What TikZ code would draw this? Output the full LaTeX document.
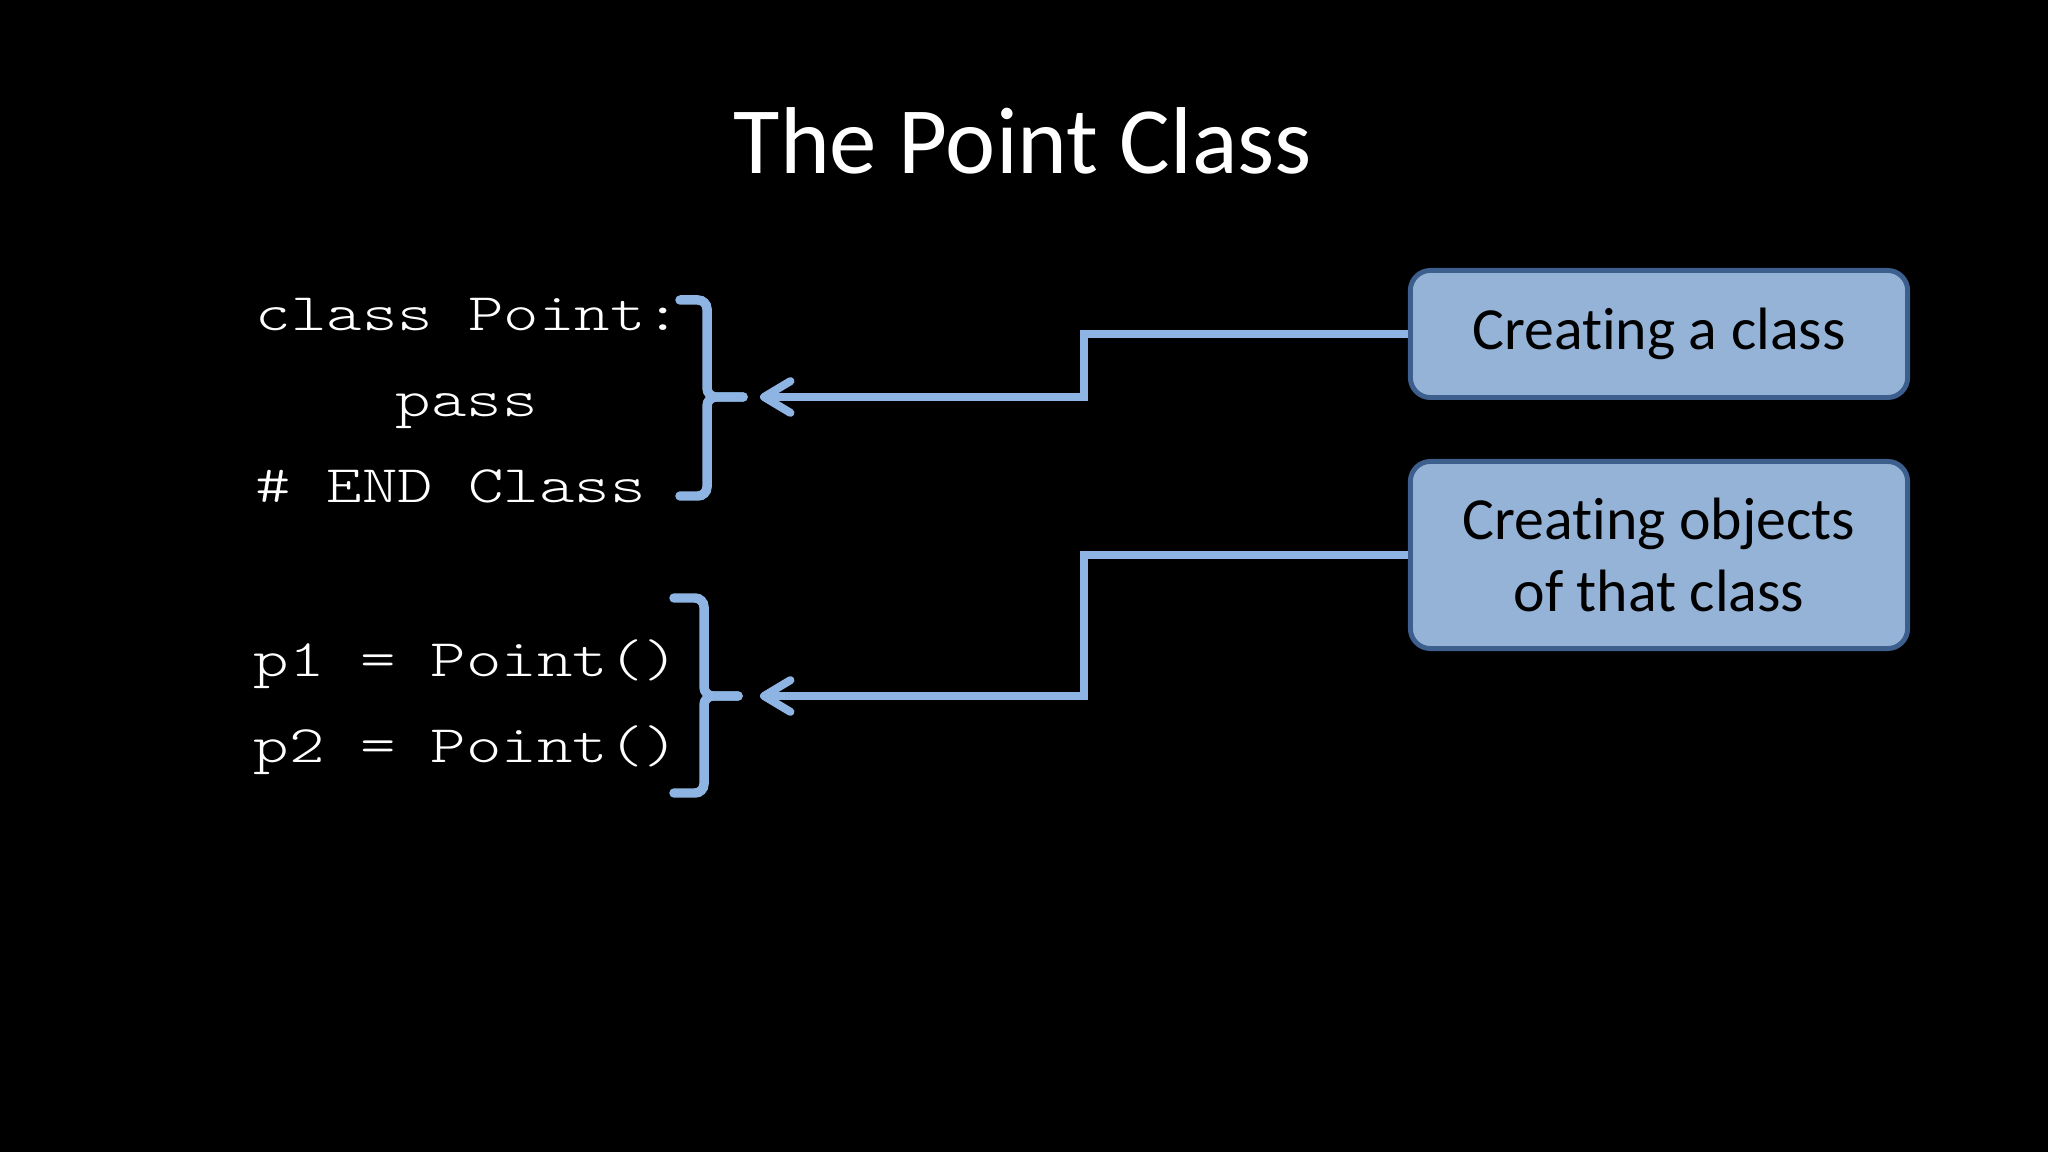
\documentclass[tikz,border=0pt]{standalone}
\usepackage{fontspec}
\setmainfont[Ligatures={NoCommon,NoContextual}]{Carlito}
\newfontfamily\codefont[FakeStretch=1.28]{Latin Modern Mono Light}
\usetikzlibrary{arrows.meta}
\definecolor{linkblue}{HTML}{8DB4E2}
\definecolor{boxfill}{HTML}{95B3D7}
\definecolor{boxedge}{HTML}{3D5F8E}
\tikzset{
  code/.style={anchor=base west, inner sep=0pt, text=white, font=\codefont\fontsize{15}{18}\selectfont},
  note/.style={draw=boxedge, line width=1.4pt, fill=boxfill, rounded corners=0.2cm, minimum width=4.97cm, align=center, font=\fontsize{17}{20.5}\selectfont},
  curly/.style={draw=linkblue, line width=2.7pt, rounded corners=0.09cm, line cap=round},
  link/.style={draw=linkblue, line width=2.3pt, -{Straight Barb[length=7.5pt,width=9pt,round]}}
}
\begin{document}
\begin{tikzpicture}[x=0.01cm,y=-0.01cm]
\useasboundingbox[fill=black] (0,0) rectangle (2048,1152);
\node[anchor=base, text=white, font=\fontsize{27}{32}\selectfont] (title) at (1023,174) {The Point Class};

\node[code] (c1) at (255,331) {class Point:};
\node[code] (c2) at (395,417) {pass};
\node[code] (c3) at (255,503) {\# END Class};
\node[code] (c4) at (253,676) {p1 = Point()};
\node[code] (c5) at (253,762) {p2 = Point()};

\draw[curly] (680,300) -- (707,300) -- (707,397) -- (743,397);
\draw[curly] (680,496) -- (707,496) -- (707,397) -- (743,397);
\draw[curly] (674,598) -- (704,598) -- (704,696) -- (738,696);
\draw[curly] (674,793) -- (704,793) -- (704,696) -- (738,696);

\node[note, minimum height=1.27cm] (mkclass) at (1659,334) {Creating a class};
\node[note, minimum height=1.87cm] (mkobj) at (1659,555) {Creating objects\\of that class};

\coordinate (tip1) at (760,397);
\coordinate (tip2) at (760,696);
\draw[link] (mkclass.west) -- ++(-324,0) |- (tip1);
\draw[link] (mkobj.west) -- ++(-324,0) |- (tip2);
\end{tikzpicture}
\end{document}
